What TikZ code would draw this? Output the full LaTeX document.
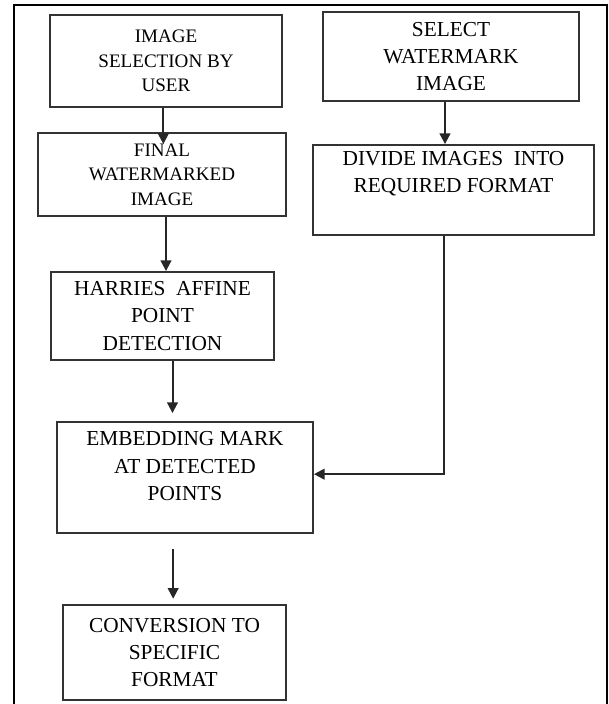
\documentclass[tikz,border=0pt]{standalone}
\usepackage{fontspec}
\setmainfont{Liberation Serif}
\usetikzlibrary{arrows.meta}

\tikzset{
    stepbox/.style={draw=black!80, line width=1.4pt, align=center, inner sep=0pt,
        font=\fontsize{16}{20.5}\selectfont},
    smalltxt/.style={font=\fontsize{14.3}{18.5}\selectfont},
    flow/.style={draw=black!85, line width=1.5pt, -{Triangle[width=8pt,length=8pt]}},
}

\begin{document}
\begin{tikzpicture}[x=0.75pt,y=-0.75pt]
    \useasboundingbox (0,0) rectangle (608,704);
    % Rahmen
    \draw[line width=1.5pt]
    (14,704) -- (14,5) -- (607,5) -- (607,704)
    ;
    % Linke Spalte
    \node[stepbox, smalltxt, minimum width=174pt, minimum height=69pt]
        (sel) at (166,61) {IMAGE\\SELECTION BY\\USER};
    \node[stepbox, smalltxt, minimum width=186pt, minimum height=62.25pt]
        (final) at (162,174.5) {FINAL\\WATERMARKED\\IMAGE};
    \node[stepbox, minimum width=167.25pt, minimum height=66pt]
        (harris) at (162.5,316) {HARRIES~ AFFINE\\POINT\\DETECTION};
    \node[stepbox, minimum width=192pt, minimum height=83.25pt, text depth=17pt]
        (embed) at (185,477.5) {EMBEDDING MARK\\AT DETECTED\\POINTS};
    \node[stepbox, minimum width=167.25pt, minimum height=71.25pt]
        (conv) at (174.5,652.5) {CONVERSION TO\\SPECIFIC\\FORMAT};
    % Rechte Spalte
    \node[stepbox, minimum width=192pt, minimum height=66.75pt]
        (wm) at (451,56.5) {SELECT\\WATERMARK\\IMAGE};
    \node[stepbox, minimum width=210.75pt, minimum height=67.5pt]
        (divide) at (453.5,190) {DIVIDE IMAGES~ INTO\\REQUIRED FORMAT\\\strut};
    % Pfeile
    \draw[flow, shorten >=-9pt] ([xshift=-2pt]sel.south) -- ([xshift=-2pt]sel.south |- final.north);
    \draw[flow] ([xshift=3pt]final.south) -- ([xshift=3pt]final.south |- harris.north);
    \draw[flow, shorten >=6pt] ([xshift=7.5pt]harris.south) -- ([xshift=7.5pt]harris.south |- embed.north);
    \draw[flow, shorten <=11pt, shorten >=4pt] ([xshift=-1pt]conv.north |- embed.south) -- ([xshift=-1pt]conv.north);
    \draw[flow] ([xshift=-4.5pt]wm.south) -- ([xshift=-4.5pt]wm.south |- divide.north);
    \draw[flow] ([xshift=-7.5pt]divide.south) |- ([yshift=2.5pt]embed.east);
\end{tikzpicture}
\end{document}
